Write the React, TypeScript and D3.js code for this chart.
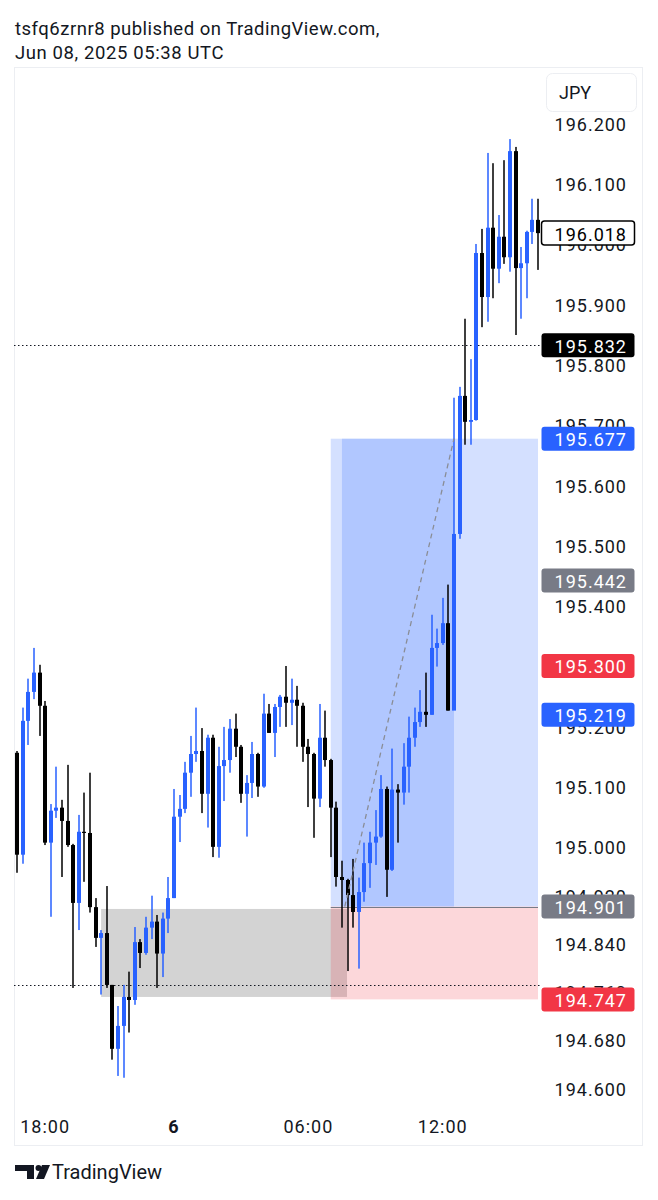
import React from "react";
import * as d3 from "d3";

// 15-minute candles (USD/JPY-like)
const opens = [
  195.156, 194.987, 195.209, 195.257, 195.289, 195.234, 195.007, 195.060, 195.065, 195.043,
  195.003, 194.907, 195.025, 195.023, 194.900, 194.849, 194.857, 194.771, 194.665, 194.703,
  194.751, 194.746, 194.842, 194.824, 194.866, 194.876, 194.823, 194.881, 194.915, 195.050,
  195.063, 195.123, 195.154, 195.159, 195.088, 195.181, 195.000, 195.134, 195.144, 195.196,
  195.166, 195.088, 195.106, 195.154, 195.100, 195.221, 195.189, 195.232, 195.249, 195.239,
  195.244, 195.234, 195.166, 195.154, 195.080, 195.181, 195.144, 195.065, 194.950, 194.945,
  194.920, 194.892, 194.925, 194.973, 195.007, 195.017, 195.096, 194.962, 195.095, 195.090,
  195.133, 195.181, 195.207, 195.224, 195.219, 195.330, 195.338, 195.371, 195.226, 195.519,
  195.748, 195.705, 195.708, 195.985, 195.912, 196.027, 195.959, 196.012, 195.978, 196.154,
  195.960, 195.968, 196.020, 196.040,
];
const highs = [
  195.159, 195.231, 195.279, 195.330, 195.302, 195.242, 195.071, 195.133, 195.078, 195.136,
  195.005, 195.053, 195.090, 195.123, 194.915, 194.862, 194.935, 194.771, 194.736, 194.771,
  194.793, 194.867, 194.847, 194.884, 194.919, 194.887, 194.891, 194.950, 195.096, 195.086,
  195.141, 195.184, 195.231, 195.197, 195.186, 195.186, 195.166, 195.199, 195.212, 195.221,
  195.169, 195.119, 195.174, 195.156, 195.254, 195.237, 195.237, 195.252, 195.300, 195.279,
  195.267, 195.239, 195.179, 195.156, 195.237, 195.226, 195.146, 195.075, 194.977, 194.947,
  194.980, 194.949, 195.007, 195.025, 195.061, 195.119, 195.100, 195.163, 195.104, 195.172,
  195.216, 195.231, 195.260, 195.289, 195.385, 195.362, 195.413, 195.435, 195.745, 195.763,
  195.876, 195.809, 196.000, 196.025, 196.151, 196.134, 196.048, 196.139, 196.174, 196.161,
  195.995, 196.022, 196.075, 196.075,
];
const lows = [
  194.957, 194.972, 195.169, 195.245, 195.184, 195.003, 194.884, 195.048, 194.950, 195.000,
  194.766, 194.862, 194.942, 194.891, 194.834, 194.755, 194.766, 194.647, 194.620, 194.617,
  194.692, 194.738, 194.799, 194.821, 194.847, 194.766, 194.784, 194.857, 194.915, 195.008,
  195.056, 195.083, 195.141, 195.056, 195.032, 194.983, 194.982, 195.076, 195.123, 195.149,
  195.073, 195.017, 195.081, 195.083, 195.098, 195.189, 195.149, 195.199, 195.199, 195.202,
  195.166, 195.141, 195.066, 195.015, 195.066, 195.133, 194.983, 194.934, 194.866, 194.794,
  194.866, 194.798, 194.909, 194.932, 194.970, 195.015, 194.917, 194.960, 195.007, 195.070,
  195.090, 195.166, 195.199, 195.199, 195.219, 195.299, 195.335, 195.226, 195.227, 195.511,
  195.667, 195.667, 195.707, 195.862, 195.871, 195.910, 195.935, 195.967, 195.954, 195.849,
  195.876, 195.910, 196.000, 195.957,
];
const closes = [
  194.987, 195.209, 195.257, 195.289, 195.234, 195.007, 195.060, 195.065, 195.043, 195.003,
  194.907, 195.025, 195.023, 194.900, 194.849, 194.857, 194.771, 194.665, 194.703, 194.751,
  194.746, 194.842, 194.824, 194.866, 194.876, 194.823, 194.881, 194.915, 195.050, 195.063,
  195.123, 195.154, 195.159, 195.088, 195.181, 195.000, 195.134, 195.144, 195.196, 195.166,
  195.088, 195.106, 195.154, 195.100, 195.221, 195.189, 195.232, 195.249, 195.239, 195.244,
  195.234, 195.166, 195.154, 195.080, 195.181, 195.144, 195.065, 194.950, 194.945, 194.920,
  194.892, 194.925, 194.973, 195.007, 195.017, 195.096, 194.962, 195.095, 195.090, 195.133,
  195.181, 195.207, 195.224, 195.219, 195.330, 195.338, 195.371, 195.226, 195.519, 195.748,
  195.705, 195.708, 195.985, 195.912, 196.027, 195.959, 196.012, 195.978, 196.154, 195.960,
  195.968, 196.020, 196.040, 196.018,
];

// time axis
const timeTickIdx = [5, 28, 52, 76];
const timeTickLabels = ["18:00", "6", "06:00", "12:00"];
const timeTickBold = [false, true, false, false];

// price axis
const priceTicks = [
  196.2, 196.1, 196.0, 195.9, 195.8, 195.7, 195.6, 195.5, 195.4, 195.3, 195.2, 195.1, 195.0,
  194.92, 194.84, 194.76, 194.68, 194.6,
];
const priceLabelValues = [196.018, 195.832, 195.677, 195.442, 195.3, 195.219, 194.901, 194.747];
const priceLabelKinds = ["last", "line", "target", "entry", "stop", "target", "entry", "stop"];

// long position tool
const entryPrice = 194.901;
const targetPrice = 195.677;
const stopPrice = 194.747;
const posStartIdx = 56;
const posEndIdx = 93;
const tradeStartIdx = 58;
const tradeEndIdx = 78;
const tradeLineStart = 58.5;

// grey zone rectangle
const boxStartIdx = 15;
const boxEndIdx = 58.9;
const boxTop = 194.897;
const boxBottom = 194.751;

// horizontal dotted lines
const hLines = [195.832, 194.771];

const kindStyle: Record<string, { fill: string; stroke: string; text: string }> = {
  last: { fill: "#ffffff", stroke: "#000000", text: "#000000" },
  line: { fill: "#000000", stroke: "none", text: "#ffffff" },
  target: { fill: "#2962ff", stroke: "none", text: "#ffffff" },
  entry: { fill: "#787b86", stroke: "none", text: "#ffffff" },
  stop: { fill: "#f23645", stroke: "none", text: "#ffffff" },
};

const FONT = "Roboto, 'Noto Sans', sans-serif";
const UP = "#2962ff";
const DOWN = "#000000";

export default function App() {
  const W = 658;
  const H = 1200;
  const x = d3.scaleLinear().domain([0, opens.length - 1]).range([17.1, 538]);
  const y = d3.scaleLinear().domain([194.6, 196.2]).range([1088, 123.4]);
  const fmt = d3.format(".3f");

  const paneLeft = 14;
  const paneRight = 540;

  const candles = opens.map((o, i) => {
    const c = closes[i];
    const up = c >= o;
    const cx = Math.round(x(i));
    const top = y(Math.max(o, c));
    const bot = y(Math.min(o, c));
    const color = up ? UP : DOWN;
    return (
      <g key={i}>
        <rect x={cx - 0.75} y={y(highs[i])} width={1.5} height={Math.max(1, y(lows[i]) - y(highs[i]))} fill={color} />
        <rect x={cx - 2} y={top} width={4} height={Math.max(1, bot - top)} fill={color} />
      </g>
    );
  });

  const x0 = x(posStartIdx);
  const x1 = x(posEndIdx);

  return (
    <div style={{ position: "absolute", left: 0, top: 0, background: "#fff" }}>
      <svg width={W} height={H} viewBox={`0 0 ${W} ${H}`} style={{ display: "block", fontFamily: FONT }}>
        <rect x={0} y={0} width={W} height={H} fill="#ffffff" />
        {/* header */}
        <text x={15} y={35} fontSize={18.5} fill="#131722" letterSpacing={0.5}>
          tsfq6zrnr8 published on TradingView.com,
        </text>
        <text x={15} y={59} fontSize={18.5} fill="#131722" letterSpacing={0.6}>
          Jun 08, 2025 05:38 UTC
        </text>
        {/* frame */}
        <rect x={14.5} y={67.5} width={628} height={1078} fill="none" stroke="#eceef2" strokeWidth={1} />

        {/* grey zone */}
        <rect
          x={x(boxStartIdx)}
          y={y(boxTop)}
          width={x(boxEndIdx) - x(boxStartIdx)}
          height={y(boxBottom) - y(boxTop)}
          fill="rgba(140,140,140,0.38)"
        />
        {/* position tool */}
        <rect x={x0} y={y(targetPrice)} width={x1 - x0} height={y(entryPrice) - y(targetPrice)} fill="rgba(41,98,255,0.2)" />
        <rect x={x0} y={y(entryPrice)} width={x1 - x0} height={y(stopPrice) - y(entryPrice)} fill="rgba(242,54,69,0.2)" />
        <rect
          x={x(tradeStartIdx)}
          y={y(targetPrice)}
          width={x(tradeEndIdx) - x(tradeStartIdx)}
          height={y(entryPrice) - y(targetPrice)}
          fill="rgba(41,98,255,0.2)"
        />
        <line x1={x0} x2={x1} y1={Math.round(y(entryPrice)) + 0.5} y2={Math.round(y(entryPrice)) + 0.5} stroke="#787b86" strokeWidth={1} />

        {/* dotted horizontal lines */}
        {hLines.map((p, i) => (
          <line
            key={i}
            x1={paneLeft}
            x2={paneRight}
            y1={Math.round(y(p)) + 0.5}
            y2={Math.round(y(p)) + 0.5}
            stroke="#131722"
            strokeWidth={1}
            strokeDasharray="1.5 2.5"
          />
        ))}

        {candles}

        {/* trade path */}
        <line
          x1={x(tradeLineStart)}
          y1={y(entryPrice)}
          x2={x(tradeEndIdx)}
          y2={y(targetPrice)}
          stroke="#8a8d96"
          strokeWidth={1.3}
          strokeDasharray="5 4"
        />

        {/* price axis ticks */}
        {priceTicks.map((p, i) => (
          <text
            key={i}
            x={627}
            y={y(p) + 1}
            textAnchor="end"
            dominantBaseline="central"
            fontSize={18}
            letterSpacing={1}
            fill="#131722"
          >
            {fmt(p)}
          </text>
        ))}

        {/* price labels */}
        {priceLabelValues.map((p, i) => {
          const st = kindStyle[priceLabelKinds[i]];
          const cy = y(p);
          return (
            <g key={i}>
              <rect
                x={541.5}
                y={cy - 12}
                width={93}
                height={24}
                rx={3}
                fill={st.fill}
                stroke={st.stroke}
                strokeWidth={st.stroke === "none" ? 0 : 1.5}
              />
              <text
                x={627}
                y={cy + 1}
                textAnchor="end"
                dominantBaseline="central"
                fontSize={18}
                letterSpacing={1}
                fill={st.text}
              >
                {fmt(p)}
              </text>
            </g>
          );
        })}

        {/* currency box */}
        <rect x={546.5} y={73.5} width={90} height={38} rx={6} fill="#ffffff" stroke="#eceef2" />
        <text x={559} y={99} fontSize={18} fill="#131722">
          JPY
        </text>

        {/* time axis */}
        {timeTickIdx.map((idx, i) => (
          <text
            key={i}
            x={x(idx)}
            y={1133}
            textAnchor="middle"
            fontSize={18}
            letterSpacing={1}
            fontWeight={timeTickBold[i] ? 700 : 400}
            fill="#131722"
          >
            {timeTickLabels[i]}
          </text>
        ))}

        {/* TradingView logo */}
        <g fill="#131722">
          <path d="M15,1165 H34 V1179 H27 V1171 H15 Z" />
          <circle cx={38.5} cy={1168} r={3} />
          <path d="M42,1165 H50 L44,1179 H36 Z" />
        </g>
        <text x={52} y={1179} fontSize={20} fill="#131722">
          TradingView
        </text>
      </svg>
    </div>
  );
}
